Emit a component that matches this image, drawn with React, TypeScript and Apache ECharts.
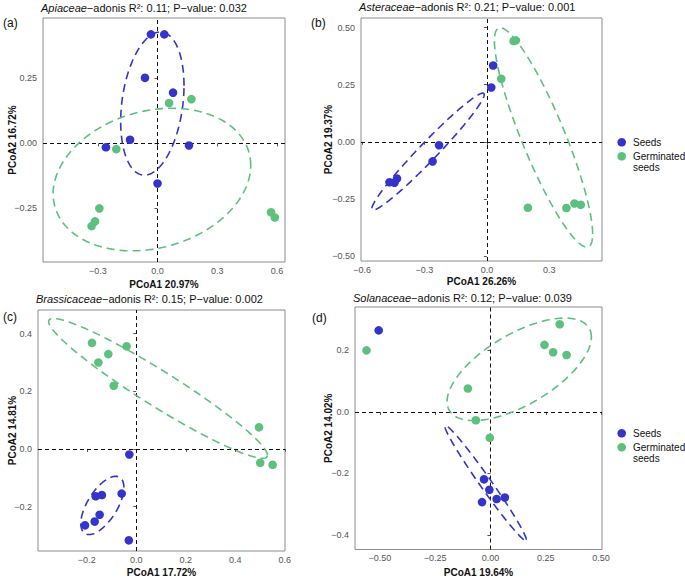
import React, { useEffect, useRef } from "react";
import * as echarts from "echarts";

const FONT = "'Liberation Sans', Arial, Helvetica, sans-serif";
const BLUE = "#3434CB";
const GREEN = "#5CC17D";

// ---- data ----
const families = ["Apiaceae", "Asteraceae", "Brassicaceae", "Solanaceae"];
const r2Values = ["0.11", "0.21", "0.15", "0.12"];
const pValues = ["0.032", "0.001", "0.002", "0.039"];
const pc1Labels = ["20.97%", "26.26%", "17.72%", "19.64%"];
const pc2Labels = ["16.72%", "19.37%", "14.81%", "14.02%"];
const panelTags = ["(a)", "(b)", "(c)", "(d)"];
const legendNames = ["Seeds", "Germinated\nseeds"];

const seedsA = [[-0.033, 0.419], [0.034, 0.419], [-0.063, 0.252], [0.078, 0.195], [-0.138, 0.014], [-0.259, -0.015], [0.158, -0.008], [0.0, -0.154]];
const germA = [[0.058, 0.155], [0.17, 0.17], [-0.207, -0.022], [-0.292, -0.25], [-0.314, -0.3], [-0.331, -0.318], [0.57, -0.265], [0.589, -0.285]];
const seedsB = [[0.03, 0.334], [0.021, 0.238], [-0.23, -0.015], [-0.261, -0.086], [-0.432, -0.161], [-0.444, -0.179], [-0.468, -0.177]];
const germB = [[0.128, 0.441], [0.139, 0.444], [0.069, 0.276], [0.197, -0.289], [0.382, -0.29], [0.421, -0.27], [0.451, -0.276]];
const seedsC = [[-0.028, -0.019], [-0.139, -0.16], [-0.164, -0.164], [-0.059, -0.155], [-0.148, -0.228], [-0.168, -0.252], [-0.207, -0.265], [-0.03, -0.317]];
const germC = [[-0.179, 0.368], [-0.039, 0.356], [-0.113, 0.329], [-0.153, 0.3], [-0.091, 0.219], [0.496, 0.075], [0.501, -0.048], [0.551, -0.055]];
const seedsD = [[-0.505, 0.265], [-0.029, -0.219], [-0.005, -0.253], [-0.038, -0.293], [0.028, -0.283], [0.065, -0.278]];
const germD = [[-0.56, 0.2], [0.313, 0.285], [0.244, 0.218], [0.283, 0.194], [0.344, 0.185], [-0.102, 0.076], [-0.066, -0.027], [-0.003, -0.084]];

// ellipse: [centerX, centerY, spreadX, spreadY, correlation]
const ellSeedsA = [-0.026, 0.153, 0.159, 0.275, 0.25];
const ellGermA = [-0.028, -0.139, 0.496, 0.274, 0.2];
const ellSeedsB = [-0.283, -0.043, 0.27, 0.256, 0.975];
const ellGermB = [0.272, 0.019, 0.236, 0.48, -0.88];
const ellSeedsC = [-0.137, -0.196, 0.087, 0.101, 0.62];
const ellGermC = [0.088, 0.21, 0.442, 0.2425, -0.955];
const ellSeedsD = [-0.022, -0.231, 0.184, 0.187, -0.985];
const ellGermD = [0.13, 0.1385, 0.326, 0.1665, 0.63];

const xTicksA = [-0.3, 0, 0.3, 0.6];
const yTicksA = [-0.25, 0, 0.25];
const xTicksB = [-0.6, -0.3, 0, 0.3];
const yTicksB = [-0.5, -0.25, 0, 0.25, 0.5];
const xTicksC = [-0.2, 0, 0.2, 0.4, 0.6];
const yTicksC = [-0.2, 0, 0.2, 0.4];
const xTicksD = [-0.5, -0.25, 0, 0.25, 0.5];
const yTicksD = [-0.4, -0.2, 0, 0.2];

const seedsAll = [seedsA, seedsB, seedsC, seedsD];
const germAll = [germA, germB, germC, germD];
const ellSeedsAll = [ellSeedsA, ellSeedsB, ellSeedsC, ellSeedsD];
const ellGermAll = [ellGermA, ellGermB, ellGermC, ellGermD];
const xTicksAll = [xTicksA, xTicksB, xTicksC, xTicksD];
const yTicksAll = [yTicksA, yTicksB, yTicksC, yTicksD];
const xDec = [1, 1, 1, 2];
const yDec = [2, 2, 1, 1];

// ---- layout ----
const grids = [
  { left: 43, top: 18, width: 242, height: 244 },
  { left: 361, top: 18, width: 241, height: 243 },
  { left: 38, top: 310, width: 247, height: 244 },
  { left: 355, top: 307, width: 247, height: 245 },
];
const xRanges = [[-0.575, 0.64], [-0.605, 0.553], [-0.397, 0.601], [-0.612, 0.504]];
const yRanges = [[-0.456, 0.482], [-0.522, 0.542], [-0.354, 0.482], [-0.447, 0.341]];
const xNameGap = [17, 15.5, 16, 17.5];
const yNameGap = [26, 27.5, 21, 21.5];
const titlePos = [[41, 8], [359, 7], [36, 298.5], [353, 298]];
const tagPos = [[3, 22.5], [311, 22.5], [3, 317], [312, 318]];

const fmt = (dec: number) => (v: number) => {
  const s = (Math.abs(v) < 1e-9 ? 0 : v).toFixed(dec);
  return s.replace("-", "\u2212");
};

function ellipseRender(color: string) {
  return (params: any, api: any) => {
    const cx = api.value(0), cy = api.value(1), rx = api.value(2), ry = api.value(3), rho = api.value(4);
    const k = Math.sqrt(Math.max(0, 1 - rho * rho));
    const pts: number[][] = [];
    const N = 180;
    for (let i = 0; i < N; i++) {
      const t = (2 * Math.PI * i) / N;
      const x = cx + rx * Math.cos(t);
      const y = cy + ry * (rho * Math.cos(t) + k * Math.sin(t));
      pts.push(api.coord([x, y]));
    }
    return {
      type: "polygon",
      shape: { points: pts },
      style: { fill: "none", stroke: color, lineWidth: 1.6, lineDash: [8, 5] },
    };
  };
}

export default function App() {
  const ref = useRef<HTMLDivElement>(null);
  useEffect(() => {
    if (!ref.current) return;
    const chart = echarts.init(ref.current, null, { renderer: "svg" });
    const gridOpt = grids.map((g) => ({
      ...g,
      show: true,
      borderColor: "#8c8c8c",
      borderWidth: 1,
      backgroundColor: "transparent",
      containLabel: false,
    }));
    const xAxis = grids.map((_, i) => ({
      type: "value",
      gridIndex: i,
      min: xRanges[i][0],
      max: xRanges[i][1],
      axisLine: { show: false },
      splitLine: { show: false },
      axisTick: { show: true, length: 3, lineStyle: { color: "#555" }, customValues: xTicksAll[i] },
      axisLabel: { customValues: xTicksAll[i], formatter: fmt(xDec[i]), color: "#555", fontSize: 9, fontFamily: FONT, margin: 4 },
      name: "PCoA1 " + pc1Labels[i],
      nameLocation: "middle",
      nameGap: xNameGap[i],
      nameMoveOverlap: false,
      nameTextStyle: { fontWeight: "bold", fontSize: 10, color: "#111", fontFamily: FONT },
    }));
    const yAxis = grids.map((_, i) => ({
      type: "value",
      gridIndex: i,
      min: yRanges[i][0],
      max: yRanges[i][1],
      axisLine: { show: false },
      splitLine: { show: false },
      axisTick: { show: true, length: 3, lineStyle: { color: "#555" }, customValues: yTicksAll[i] },
      axisLabel: { customValues: yTicksAll[i], formatter: fmt(yDec[i]), color: "#555", fontSize: 9, fontFamily: FONT, margin: 6 },
      name: "PCoA2 " + pc2Labels[i],
      nameLocation: "middle",
      nameRotate: 90,
      nameGap: yNameGap[i],
      nameMoveOverlap: false,
      nameTextStyle: { fontWeight: "bold", fontSize: 10, color: "#111", fontFamily: FONT },
    }));
    const series: any[] = [];
    grids.forEach((_, i) => {
      series.push({
        type: "scatter",
        name: legendNames[0],
        xAxisIndex: i,
        yAxisIndex: i,
        data: seedsAll[i],
        symbolSize: 8.6,
        itemStyle: { color: BLUE, opacity: 1 },
        z: 3,
        markLine: {
          silent: true,
          symbol: ["none", "none"],
          label: { show: false },
          lineStyle: { color: "#111", width: 1, type: [4, 3] },
          data: [{ xAxis: 0 }, { yAxis: 0 }],
          z: 1,
        },
      });
      series.push({
        type: "scatter",
        name: legendNames[1],
        xAxisIndex: i,
        yAxisIndex: i,
        data: germAll[i],
        symbolSize: 8.6,
        itemStyle: { color: GREEN, opacity: 1 },
        z: 3,
      });
      series.push({
        type: "custom",
        xAxisIndex: i,
        yAxisIndex: i,
        data: [ellSeedsAll[i]],
        encode: { x: 0, y: 1 },
        renderItem: ellipseRender(BLUE),
        silent: true,
        z: 4,
      });
      series.push({
        type: "custom",
        xAxisIndex: i,
        yAxisIndex: i,
        data: [ellGermAll[i]],
        encode: { x: 0, y: 1 },
        renderItem: ellipseRender(GREEN),
        silent: true,
        z: 4,
      });
    });

    const graphic: any[] = [];
    families.forEach((f, i) => {
      graphic.push({
        type: "text",
        x: titlePos[i][0],
        y: titlePos[i][1],
        style: {
          text: `{i|${f}}{n|\u2212adonis R\u00b2: ${r2Values[i]}; P\u2212value: ${pValues[i]}}`,
          verticalAlign: "middle",
          rich: {
            i: { fontStyle: "italic", fontSize: 11, fontFamily: FONT, fill: "#111" },
            n: { fontSize: 11, fontFamily: FONT, fill: "#111" },
          },
        },
      });
      graphic.push({
        type: "text",
        x: tagPos[i][0],
        y: tagPos[i][1],
        style: { text: panelTags[i], fontSize: 12, fontFamily: FONT, fill: "#111", verticalAlign: "middle" },
      });
    });
    const legendTops = [142.3, 433.3];
    legendTops.forEach((ty) => {
      graphic.push({ type: "circle", shape: { cx: 621.7, cy: ty, r: 4.3 }, style: { fill: BLUE } });
      graphic.push({ type: "circle", shape: { cx: 621.7, cy: ty + 14, r: 4.3 }, style: { fill: GREEN } });
      graphic.push({
        type: "text",
        x: 633,
        y: ty,
        style: { text: legendNames[0], fontSize: 10, fontFamily: FONT, fill: "#111", verticalAlign: "middle" },
      });
      graphic.push({
        type: "text",
        x: 633,
        y: ty + 14 - 5.4,
        style: { text: legendNames[1], fontSize: 10, lineHeight: 10.8, fontFamily: FONT, fill: "#111", verticalAlign: "top" },
      });
    });

    chart.setOption({
      animation: false,
      backgroundColor: "#fff",
      grid: gridOpt,
      xAxis,
      yAxis,
      series,
      graphic,
    });
    return () => chart.dispose();
  }, []);
  return (
    <div
      ref={ref}
      style={{ position: "fixed", left: 0, top: 0, width: 685, height: 578, background: "#fff" }}
    />
  );
}
